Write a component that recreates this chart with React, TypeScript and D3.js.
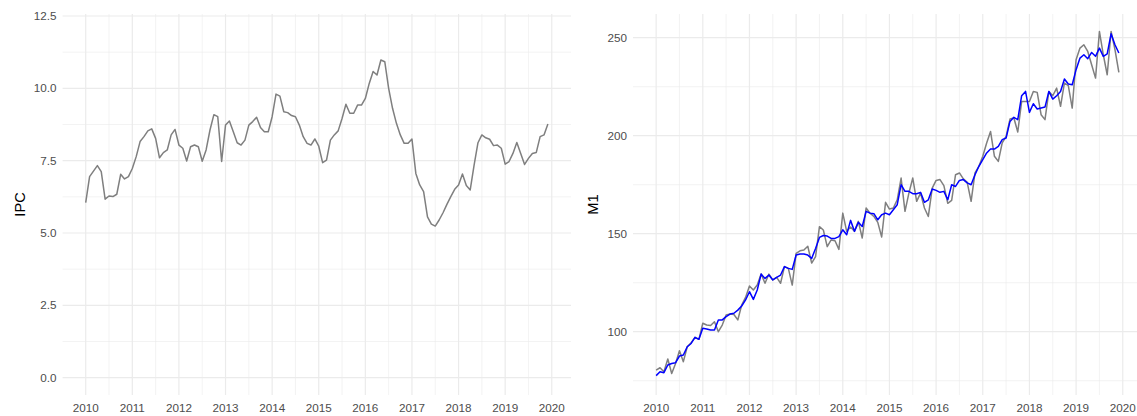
import React from "react";
import * as d3 from "d3";

const yearTicks = [2010, 2011, 2012, 2013, 2014, 2015, 2016, 2017, 2018, 2019, 2020];
const ipcTicks = [0, 2.5, 5, 7.5, 10, 12.5];
const m1Ticks = [100, 150, 200, 250];

const startYear = 2010;

const ipc = [
  6.05, 6.95, 7.14, 7.33, 7.12, 6.17, 6.28, 6.26, 6.34, 7.03, 6.87, 6.95,
  7.23, 7.64, 8.16, 8.33, 8.53, 8.6, 8.27, 7.6, 7.78, 7.87, 8.39, 8.58,
  8.04, 7.93, 7.49, 7.98, 8.04, 7.98, 7.48, 7.87, 8.56, 9.09, 9.02, 7.47,
  8.73, 8.87, 8.5, 8.12, 8.04, 8.21, 8.73, 8.85, 9.0, 8.65, 8.5, 8.5,
  9.02, 9.8, 9.73, 9.19, 9.16, 9.06, 9.02, 8.73, 8.33, 8.1, 8.04, 8.25,
  8.0, 7.43, 7.52, 8.21, 8.39, 8.53, 8.96, 9.45, 9.14, 9.14, 9.42, 9.42,
  9.65, 10.17, 10.58, 10.46, 10.98, 10.92, 10.0, 9.31, 8.79, 8.39, 8.1, 8.1,
  8.25, 7.06, 6.66, 6.43, 5.56, 5.31, 5.24, 5.45, 5.7, 5.99, 6.26, 6.51,
  6.66, 7.04, 6.64, 6.49, 7.35, 8.12, 8.39, 8.29, 8.24, 8.02, 8.04, 7.93,
  7.38, 7.47, 7.75, 8.13, 7.75, 7.37, 7.58, 7.75, 7.78, 8.33, 8.39, 8.77,
];

const m1Actual = [
  80.4, 81.6, 79.6, 86.1, 78.7, 83.8, 90.3, 84.7, 92.3, 94.4, 97.1, 96.1,
  104.3, 103.4, 103.2, 105.1, 100, 103.4, 108.5, 109, 108.8, 106, 113.6, 117.5,
  123.3, 121.3, 123.8, 129.4, 124.7, 129.4, 126.4, 127.7, 124.7, 133.2, 132.3, 123.8,
  140, 141.3, 141.7, 143.6, 135, 138.3, 153.6, 151.9, 143.4, 146.8, 146.4, 142,
  160.5, 151.2, 153.4, 151.2, 156.3, 147.8, 163.1, 160.5, 158.8, 155.8, 148.3, 166,
  162.6, 163.1, 167.3, 178.4, 161.4, 170.7, 178.4, 166.5, 170.7, 163.1, 158.8, 173.3,
  177.2, 177.6, 174.5, 165.5, 167, 180.1, 181, 178, 176.2, 166.5, 181, 184.4,
  189.5, 196.3, 202.2, 189.5, 186.9, 196.3, 199.7, 208.5, 209, 201.9, 217.5, 217.5,
  217.5, 222.6, 222.1, 210.7, 208.2, 222.6, 220.4, 224.3, 215, 226.9, 225.5, 214.1,
  238.8, 244.7, 246.4, 243, 236.2, 229.4, 253.2, 241.3, 231.1, 253.2, 243.9, 232.3,
];

const m1Fitted = [
  77.6, 79.6, 79.1, 83.0, 83.8, 84.2, 87.6, 88.1, 92.3, 94.0, 97.1, 96.1,
  101.7, 101.4, 100.9, 100.9, 106, 106, 107.7, 109, 109.4, 111, 113.1, 116.2,
  120.4, 116.5, 121.3, 129.4, 127.2, 128.9, 126.4, 127.7, 128.9, 133.2, 132.3, 131.8,
  139.1, 139.6, 139.6, 139.1, 137.4, 142.5, 148.1, 149.1, 148.8, 147.6, 147.6, 148.5,
  152, 149.5, 156.8, 151.2, 155.8, 153.7, 161.4, 160.5, 160.2, 157.1, 159.7, 160.5,
  159.7, 162.2, 164.8, 175, 171.6, 171.6, 170.4, 170.4, 171.1, 166, 167.3, 172.8,
  172.1, 171.1, 171.6, 167.3, 175, 174.1, 177.2, 177.6, 175.9, 175, 180.1, 184.4,
  187.8, 191.2, 193.2, 193.2, 194.6, 198, 198.8, 207.3, 209.4, 208.2, 220.4, 222.6,
  211.9, 216.3, 213.6, 214.1, 214.6, 222.6, 218.7, 220.4, 222.6, 228.9, 226.4, 226,
  233.7, 239.6, 241.3, 239.3, 242.5, 240.5, 244.7, 240.5, 241.7, 252, 246.4, 242.2,
];

const FONT = "'Liberation Sans', Arial, Helvetica, sans-serif";
const GRID = "#EBEBEB";
const TICK_COLOR = "#4D4D4D";

const PANEL_TOP = 14;
const PANEL_BOTTOM = 395;

const xDomain: [number, number] = (() => {
  const lo = startYear;
  const hi = startYear + (ipc.length - 1) / 12;
  const pad = (hi - lo) * 0.05;
  return [lo - pad, hi + pad];
})();

type PanelProps = {
  left: number;
  right: number;
  yDomain: [number, number];
  yTicks: number[];
  yFormat: (v: number) => string;
  yMinor: number[];
  title: string;
  titleX: number;
  labelX: number;
  series: { values: number[]; color: string }[];
};

function Panel({ left, right, yDomain, yTicks, yFormat, yMinor, title, titleX, labelX, series }: PanelProps) {
  const x = d3.scaleLinear().domain(xDomain).range([left, right]);
  const y = d3.scaleLinear().domain(yDomain).range([PANEL_BOTTOM, PANEL_TOP]);
  const xMinor = yearTicks.slice(0, -1).map((t) => t + 0.5);
  const line = d3
    .line<number>()
    .x((_, i) => x(startYear + i / 12))
    .y((d) => y(d));
  const midY = (PANEL_TOP + PANEL_BOTTOM) / 2;
  return (
    <g>
      {yMinor.map((t) => (
        <line key={"ym" + t} x1={left} x2={right} y1={y(t)} y2={y(t)} stroke={GRID} strokeWidth={0.6} />
      ))}
      {xMinor.map((t) => (
        <line key={"xm" + t} x1={x(t)} x2={x(t)} y1={PANEL_TOP} y2={PANEL_BOTTOM} stroke={GRID} strokeWidth={0.6} />
      ))}
      {yTicks.map((t) => (
        <line key={"y" + t} x1={left} x2={right} y1={y(t)} y2={y(t)} stroke={GRID} strokeWidth={1.2} />
      ))}
      {yearTicks.map((t) => (
        <line key={"x" + t} x1={x(t)} x2={x(t)} y1={PANEL_TOP} y2={PANEL_BOTTOM} stroke={GRID} strokeWidth={1.2} />
      ))}
      {series.map((s, k) => (
        <path key={k} d={line(s.values) || ""} fill="none" stroke={s.color} strokeWidth={1.5} strokeLinejoin="round" />
      ))}
      {yTicks.map((t) => (
        <text
          key={"yl" + t}
          x={labelX}
          y={y(t)}
          dy="0.35em"
          textAnchor="end"
          fontSize={11.7}
          fill={TICK_COLOR}
          fontFamily={FONT}
        >
          {yFormat(t)}
        </text>
      ))}
      {yearTicks.map((t) => (
        <text
          key={"xl" + t}
          x={x(t)}
          y={411.5}
          textAnchor="middle"
          fontSize={11.7}
          fill={TICK_COLOR}
          fontFamily={FONT}
        >
          {t}
        </text>
      ))}
      <text
        transform={`translate(${titleX},${midY}) rotate(-90)`}
        textAnchor="middle"
        fontSize={14.6}
        fill="#000"
        fontFamily={FONT}
      >
        {title}
      </text>
    </g>
  );
}

export default function App() {
  return (
    <div style={{ position: "absolute", left: 0, top: 0, width: 1137, height: 416, overflow: "hidden", background: "#fff" }}>
      <svg width={1137} height={416} style={{ display: "block" }}>
        <rect width={1137} height={416} fill="#fff" />
        <Panel
          left={62.6}
          right={571}
          yDomain={[-0.598, 12.569]}
          yTicks={ipcTicks}
          yFormat={(v) => v.toFixed(1)}
          yMinor={[1.25, 3.75, 6.25, 8.75, 11.25]}
          title="IPC"
          titleX={24.5}
          labelX={56.5}
          series={[{ values: ipc, color: "#7F7F7F" }]}
        />
        <Panel
          left={633}
          right={1142}
          yDomain={[67.7, 262.1]}
          yTicks={m1Ticks}
          yFormat={(v) => String(v)}
          yMinor={[75, 125, 175, 225]}
          title="M1"
          titleX={598}
          labelX={627}
          series={[
            { values: m1Actual, color: "#7F7F7F" },
            { values: m1Fitted, color: "#0000FF" },
          ]}
        />
      </svg>
    </div>
  );
}
